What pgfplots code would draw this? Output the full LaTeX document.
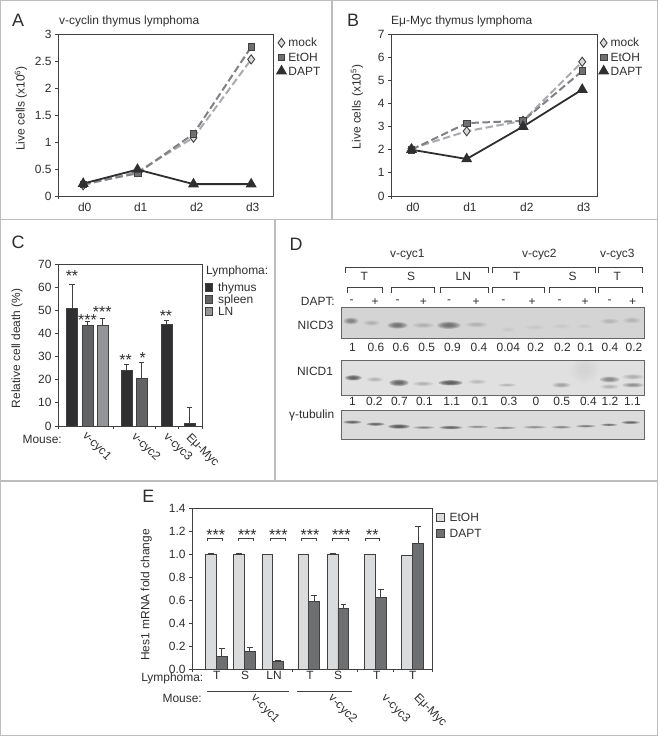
\documentclass[border=0pt]{standalone}
\usepackage{pgfplots}
\usepackage{fontspec}
\setmainfont{Liberation Sans}
\pgfplotsset{compat=1.18}
\definecolor{tc}{HTML}{2E2E2E}
\definecolor{axc}{HTML}{404040}
\definecolor{frm}{HTML}{BDBDBD}
\definecolor{mockl}{HTML}{A9ABAE}
\definecolor{etohl}{HTML}{7F8184}
\definecolor{dark}{HTML}{2F2F31}
\definecolor{cspl}{HTML}{626365}
\definecolor{cln}{HTML}{949598}
\definecolor{elight}{HTML}{D9DBDC}
\definecolor{edark}{HTML}{6E6F71}
\newcommand\fs{\fontsize{12}{14}\selectfont}
\newcommand\bigf{\fontsize{18}{20}\selectfont}
\pgfplotsset{
  panel/.style={scale only axis, clip=false,
    axis line style={line width=.9bp,draw=axc},
    tick style={line width=.8bp,draw=axc},
    tick align=outside, xtick pos=bottom, ytick pos=left,
    major tick length=3bp,
    ticklabel style={font=\fs,text=tc},
    label style={font=\fs,text=tc},
    /pgf/number format/assume math mode=true},
  markleg/.style={legend style={draw=none,fill=none,font=\fs,text=tc,inner sep=0pt,row sep=#1,
      nodes={inner sep=0pt,text height=8.6bp,text depth=0pt,anchor=base west},
      /tikz/every odd column/.style={column sep=3bp}},
    legend cell align=left,
    legend image code/.code={\draw[##1] plot coordinates {(0bp,4bp)};}},
  barleg/.style={legend style={draw=none,fill=none,font=\fs,text=tc,inner sep=0pt,row sep=#1,
      nodes={inner sep=0pt,text height=8.6bp,text depth=0pt,anchor=base west},
      /tikz/every odd column/.style={column sep=5bp}},
    legend cell align=left,
    legend image code/.code={\draw[##1,line width=.9bp,draw=axc] (0bp,0bp) rectangle (7.5bp,8bp);}},
  mockst/.style={mockl,line width=2bp,dash pattern=on 7.5bp off 3.5bp,mark=diamond*,mark size=4.6bp,
     mark options={solid,line width=.9bp,draw=axc,fill=elight}},
  etohst/.style={etohl,line width=2bp,dash pattern=on 7.5bp off 3.5bp,mark=square*,mark size=3.3bp,
     mark options={solid,line width=.6bp,draw=axc,fill=edark}},
  daptst/.style={dark,line width=1.8bp,mark=triangle*,mark size=4.6bp,
     mark options={solid,draw=dark,fill=dark}},
  cbar/.style={ybar,bar shift=0pt,bar width=#1,line width=.8bp,draw=axc,
     error bars/y dir=plus,error bars/y explicit,
     error bars/error bar style={line width=.8bp,draw=axc},
     error bars/error mark options={rotate=90,mark size=2.8bp,line width=.8bp,draw=axc}},
  blot/.style={scale only axis,width=303bp,xmin=198,xmax=1108,y dir=reverse,
     xtick=\empty,ytick=\empty,clip=true,
     axis line style={draw=black!60,line width=.9bp},
     axis background/.style={fill=#1}},
}
% one blot band in a blot axis: x, y, full width, full height (all in zoom px), opacity per layer
\newcommand\band[5]{%
  \fill[black!75,opacity=#5] (axis cs:#1,#2) ellipse [x radius=#3/6*1bp,y radius=#4/6*1bp];
  \fill[black!75,opacity=#5] (axis cs:#1,#2) ellipse [x radius=#3/6*.8bp,y radius=#4/6*.8bp];
  \fill[black!75,opacity=#5] (axis cs:#1,#2) ellipse [x radius=#3/6*.6bp,y radius=#4/6*.6bp];
  \fill[black!75,opacity=#5] (axis cs:#1,#2) ellipse [x radius=#3/6*.4bp,y radius=#4/6*.4bp];
}
\tikzset{lab/.style={font=\fs,text=tc,inner sep=0pt}}
\newcommand\Dn[3]{\node[lab] at ({275+#1/3},{-225-#2/3}) {#3};}
\newcommand\Dbr[4]{\draw[axc,line width=.8bp] ({275+#1/3},{-225-#4/3}) -- ({275+#1/3},{-225-#3/3}) -- ({275+#2/3},{-225-#3/3}) -- ({275+#2/3},{-225-#4/3});}
\newcommand\En[3]{\node[lab] at ({#1/3},{-485-#2/3}) {#3};}
\newcommand\Cn[3]{\node[lab] at ({#1/3},{-220-#2/3}) {#3};}
\newcommand\St[3]{\node[font=\fontsize{16}{18}\selectfont,text=tc,inner sep=0pt,anchor=base] at ({#1},{-(#2)-9.3}) {#3};}
\begin{document}
\begin{tikzpicture}[x=1bp,y=1bp]
\path[use as bounding box] (0,0) rectangle (658,-737);
% frames
\draw[frm,line width=1.3bp] (0.7,-0.7) rectangle (657.2,-735.5);
\draw[frm,line width=1.3bp] (0.7,-219.5) -- (657.2,-219.5);
\draw[frm,line width=1.3bp] (0.7,-481) -- (657.2,-481);
\draw[frm,line width=1.3bp] (332,-0.7) -- (332,-219.5);
\draw[frm,line width=1.3bp] (275,-219.5) -- (275,-481);
% Panel A
\node[font=\bigf,text=tc,inner sep=0pt] at (18,-20) {A};
\node[lab,anchor=west] at (59,-21) {v-cyclin thymus lymphoma};
\begin{axis}[panel,markleg=5.2bp,at={(58bp,-196bp)},anchor=south west,width=215bp,height=162bp,
  xmin=-0.45,xmax=3.39,ymin=0,ymax=3,ytick={0,0.5,1,1.5,2,2.5,3},
  xtick={0,1,2,3},xticklabels={d0,d1,d2,d3},xtick style={draw=none},
  xticklabel style={xshift=1.5bp},
  ylabel={Live cells (x10\textsuperscript{6})},
  y label style={at={(axis description cs:-0.172,0.54)},anchor=center},
  legend style={at={(1.02,0.975)},anchor=north west}]
\addplot[mockst] coordinates {(0,0.2)(0.97,0.45)(1.97,1.08)(3,2.53)};
\addplot[etohst] coordinates {(0,0.22)(0.97,0.42)(1.97,1.15)(3,2.76)};
\addplot[daptst] coordinates {(0,0.23)(0.97,0.49)(1.97,0.22)(3,0.22)};
\legend{mock,EtOH,DAPT}
\draw[axc,line width=.8bp] (rel axis cs:0,0) -- ++(0pt,-3pt);
\end{axis}
% Panel B
\node[font=\bigf,text=tc,inner sep=0pt] at (353,-20) {B};
\node[lab,anchor=west] at (391,-21) {Eμ-Myc thymus lymphoma};
\begin{axis}[panel,markleg=5.2bp,at={(391bp,-196bp)},anchor=south west,width=206bp,height=162bp,
  xmin=-0.36,xmax=3.26,ymin=0,ymax=7,ytick={0,1,...,7},
  xtick={0,1,2,3},xticklabels={d0,d1,d2,d3},xtick style={draw=none},
  xticklabel style={xshift=1.5bp},
  ylabel={Live cells (x10\textsuperscript{5})},
  y label style={at={(axis description cs:-0.165,0.55)},anchor=center},
  legend style={at={(1.012,0.975)},anchor=north west}]
\addplot[mockst] coordinates {(0,2.05)(0.97,2.8)(1.96,3.25)(3,5.8)};
\addplot[etohst] coordinates {(0,2.0)(0.97,3.15)(1.96,3.25)(3,5.4)};
\addplot[daptst] coordinates {(0,2.0)(0.97,1.6)(1.96,3.0)(3,4.6)};
\legend{mock,EtOH,DAPT}
\draw[axc,line width=.8bp] (rel axis cs:0,0) -- ++(0pt,-3pt);
\end{axis}
% Panel C
\node[font=\bigf,text=tc,inner sep=0pt] at (18,-242) {C};
\begin{axis}[panel,barleg=3bp,at={(58bp,-426bp)},anchor=south west,width=144bp,height=162bp,
  xmin=58,xmax=202,ymin=0,ymax=70,ytick={0,10,...,70},
  xtick={58,113,155,178,202},xticklabels={},
  ylabel={Relative cell death (\%)},
  y label style={at={(axis description cs:-0.285,0.48)},anchor=center},
  legend style={at={(1.017,0.885)},anchor=north west}]
\addplot[cbar=11bp,fill=dark] coordinates {(72,50.7) +- (0,10.6) (126.5,24) +- (0,2.7) (166.5,44) +- (0,1.5) (189.5,1) +- (0,7)};
\addplot[cbar=11bp,fill=cspl] coordinates {(87.5,43.3) +- (0,1.7) (141.5,20.5) +- (0,7)};
\addplot[cbar=11bp,fill=cln] coordinates {(102.5,43.3) +- (0,3)};
\legend{thymus,spleen,LN}
\end{axis}
\node[lab,anchor=west] at (206,-271) {Lymphoma:};
\St{72}{272.5}{**}\St{87.5}{316}{***}\St{102.3}{308.5}{***}\St{125.7}{356}{**}\St{142.7}{354}{*}\St{166}{312}{**}
\node[lab,anchor=east] at (62,-439) {Mouse:};
\Cn{290}{680}{\rotatebox{-45}{v-cyc1}}
\Cn{437}{682}{\rotatebox{-45}{v-cyc2}}
\Cn{533}{682}{\rotatebox{-45}{v-cyc3}}
\Cn{607}{692}{\rotatebox{-45}{Eμ-Myc}}
% Panel D
\Dn{63}{58}{\bigf D}
\Dn{397}{88}{v-cyc1}\Dn{793}{88}{v-cyc2}\Dn{1027}{88}{v-cyc3}
\Dbr{210}{640}{127}{145}\Dbr{653}{960}{127}{145}\Dbr{970}{1102}{127}{145}
\Dn{268}{155}{T}\Dn{408}{155}{S}\Dn{565}{155}{LN}\Dn{725}{155}{T}\Dn{893}{155}{S}\Dn{1027}{155}{T}
\Dbr{217}{323}{187}{205}\Dbr{349}{478}{187}{205}\Dbr{495}{640}{187}{205}\Dbr{653}{807}{187}{205}\Dbr{823}{960}{187}{205}\Dbr{970}{1102}{187}{205}
\node[lab,anchor=east] at ({275+180/3},{-225-228/3}) {DAPT:};
\foreach \x/\l in {230/-,300/+,368/-,445/+,522/-,603/+,685/-,771/+,854/-,930/+,1004/-,1073/+}{\Dn{\x}{231}{\l}}
\Dn{122}{302}{NICD3}\Dn{120}{440}{NICD1}\Dn{110}{572}{γ-tubulin}
\foreach \x/\l in {232/1,303/0.6,378/0.6,455/0.5,532/0.9,612/0.4,700/0.04,782/0.2,862/0.2,932/0.1,1005/0.4,1077/0.2}{\Dn{\x}{366}{\l}}
\foreach \x/\l in {232/1,298/0.2,373/0.7,448/0.1,530/1.1,615/0.1,702/0.3,783/0,860/0.5,940/0.4,1005/1.2,1072/1.1}{\Dn{\x}{530}{\l}}
\begin{axis}[blot=black!17,at={(341bp,-338bp)},anchor=south west,height=31bp,ymin=247,ymax=340]
\band{228}{289}{45}{20}{.17}\band{290}{295}{50}{16}{.06}\band{368}{302}{60}{20}{.22}\band{445}{302}{65}{16}{.06}
\band{522}{302}{70}{22}{.22}\band{605}{300}{65}{16}{.06}\band{700}{315}{45}{14}{.015}\band{780}{308}{65}{14}{.02}
\band{860}{305}{55}{14}{.02}\band{930}{305}{45}{14}{.02}\band{1005}{290}{55}{16}{.05}\band{1072}{287}{55}{18}{.05}
\end{axis}
\begin{axis}[blot=black!12,at={(341bp,-395bp)},anchor=south west,height=35bp,ymin=404,ymax=510]
\band{235}{458}{50}{16}{.3}\band{300}{463}{50}{14}{.07}\band{372}{473}{58}{20}{.28}\band{445}{476}{62}{14}{.07}
\band{527}{473}{72}{16}{.32}\band{608}{470}{55}{14}{.06}\band{697}{480}{55}{10}{.07}\band{860}{480}{55}{16}{.1}
\band{930}{435}{85}{80}{.015}\band{1005}{463}{60}{18}{.17}\band{1005}{485}{55}{14}{.07}\band{1075}{480}{65}{14}{.14}\band{1075}{455}{65}{16}{.08}
\end{axis}
\begin{axis}[blot=black!14,at={(341bp,-439bp)},anchor=south west,height=29bp,ymin=556,ymax=642]
\band{232}{592}{55}{10}{.28}\band{302}{598}{55}{10}{.28}\band{372}{605}{65}{13}{.33}\band{447}{608}{65}{8}{.18}
\band{528}{608}{70}{10}{.28}\band{608}{606}{65}{8}{.15}\band{690}{609}{70}{7}{.18}\band{780}{607}{70}{8}{.15}
\band{860}{607}{60}{8}{.18}\band{933}{604}{60}{8}{.2}\band{1003}{600}{50}{7}{.25}\band{1068}{593}{55}{9}{.28}
\end{axis}
% Panel E
\En{445}{35}{\bigf E}
\begin{axis}[panel,barleg=6.5bp,at={(192bp,-669bp)},anchor=south west,width=240bp,height=161bp,
  xmin=192,xmax=432,ymin=0,ymax=1.4,
  yticklabel style={/pgf/number format/fixed,/pgf/number format/fixed zerofill,/pgf/number format/precision=1},
  ytick={0,0.2,0.4,0.6,0.8,1,1.2,1.4},
  xtick={192,292,357,393,432},xticklabels={},
  extra x ticks={216.7,245,274,310,338,376.7,412.7},
  extra x tick labels={T,S,LN,T,S,T,T},
  extra x tick style={major tick length=0pt,xticklabel style={yshift=1bp}},
  ylabel={Hes1 mRNA fold change},
  y label style={at={(axis description cs:-0.19,0.46)},anchor=center},
  legend style={at={(1.017,0.97)},anchor=north west}]
\addplot[cbar=10.7bp,fill=elight] coordinates {(211,1.0) +- (0,0.003) (239,0.995) +- (0,0.01) (267.3,0.995) +- (0,0.002) (303.3,0.995) +- (0,0.001) (332.7,1.0) +- (0,0.002) (369.7,0.995) +- (0,0.002) (407,0.99) +- (0,0.002)};
\addplot[cbar=10.7bp,fill=edark] coordinates {(221.7,0.11) +- (0,0.07) (249.7,0.15) +- (0,0.035) (278,0.07) +- (0,0.005) (314,0.59) +- (0,0.05) (343.3,0.53) +- (0,0.035) (380.7,0.62) +- (0,0.07) (418,1.09) +- (0,0.15)};
\legend{EtOH,DAPT}
\end{axis}
\foreach \x in {647,742,835,930,1024,1117}{\pgfmathsetmacro\xx{\x/3}\St{\xx}{531.5}{\ifnum\x=1117 **\else ***\fi}}
\foreach \a/\b in {622/668,715/760,812/856,905/950,998/1045,1096/1138}{\draw[axc,line width=.7bp] ({\a/3},{-485-167/3}) -- ({\a/3},{-485-160/3}) -- ({\b/3},{-485-160/3}) -- ({\b/3},{-485-167/3});}
\node[lab,anchor=east] at (203.5,-678.5) {Lymphoma:};
\node[lab,anchor=east] at (202,-698.5) {Mouse:};
\draw[axc,line width=.7bp] ({622/3},{-485-618/3}) -- ({866/3},{-485-618/3});
\draw[axc,line width=.7bp] ({892/3},{-485-618/3}) -- ({1056/3},{-485-618/3});
\En{795}{672}{\rotatebox{-45}{v-cyc1}}
\En{1027}{672}{\rotatebox{-45}{v-cyc2}}
\En{1187}{672}{\rotatebox{-45}{v-cyc3}}
\En{1290}{677}{\rotatebox{-45}{Eμ-Myc}}
\end{tikzpicture}
\end{document}
